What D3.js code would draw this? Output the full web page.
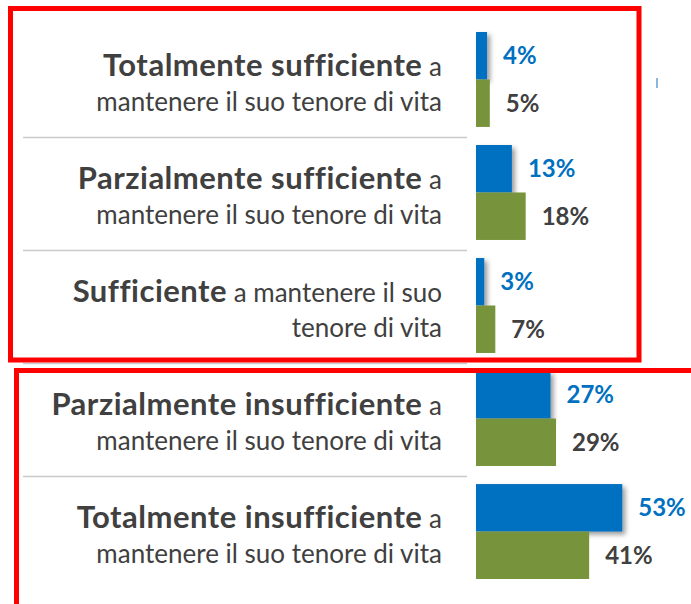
<!DOCTYPE html>
<html lang="it">
<head>
<meta charset="UTF-8">
<title>Reddito e tenore di vita</title>
<style>
  body { margin: 0; background: #fff; }
  svg { display: block; font-family: Lato, "Open Sans", sans-serif; }
  .label { fill: #404040; font-size: 26px; }
  .label .strong { font-weight: bold; font-size: 31px; letter-spacing: 0.5px; }
  .value { font-weight: bold; font-size: 24px; }
</style>
</head>
<body>
<svg width="691" height="604"></svg>
<script src="https://d3js.org/d3.v7.min.js"></script>
<script>
const categories = ["Totalmente sufficiente", "Parzialmente sufficiente", "Sufficiente", "Parzialmente insufficiente", "Totalmente insufficiente"];
const firstLineTail = [" a", " a", " a mantenere il suo", " a", " a"];
const secondLine = ["mantenere il suo tenore di vita", "mantenere il suo tenore di vita", "tenore di vita", "mantenere il suo tenore di vita", "mantenere il suo tenore di vita"];
const blueValues = [4, 13, 3, 27, 53];
const greenValues = [5, 18, 7, 29, 41];
const series = ["blue", "green"];

const colors = { blue: "#0070c0", green: "#77933c" };
const labelColors = { blue: "#0070c0", green: "#404040" };

const svg = d3.select("svg");

// soft shadow behind the blue bars
svg.append("defs").append("filter")
    .attr("id", "shadow")
    .attr("filterUnits", "userSpaceOnUse")
    .attr("x", 0).attr("y", 0).attr("width", 691).attr("height", 604)
    .append("feDropShadow")
    .attr("dx", 3).attr("dy", 3)
    .attr("stdDeviation", 2.5)
    .attr("flood-color", "#000")
    .attr("flood-opacity", 0.4);

const y = d3.scaleBand().domain(categories).range([32, 579]).paddingInner(0.16);
const ySub = d3.scaleBand().domain(series).range([0, y.bandwidth()]);
const x = d3.scaleLinear().domain([0, 100]).range([476, 752]);

const rows = categories.map((c, i) => ({
    cat: c,
    tail: firstLineTail[i],
    line2: secondLine[i],
    blue: blueValues[i],
    green: greenValues[i]
}));

// separators between rows
svg.selectAll(".sep")
    .data(categories.slice(0, -1))
    .enter().append("line")
    .attr("class", "sep")
    .attr("x1", 23).attr("x2", 467)
    .attr("y1", d => y(d) + y.bandwidth() + 10.5)
    .attr("y2", d => y(d) + y.bandwidth() + 10.5)
    .attr("stroke", "#cacaca")
    .attr("stroke-width", 1.5);

// category labels
const label = svg.selectAll(".label")
    .data(rows)
    .enter().append("g")
    .attr("class", "label");

const line1 = label.append("text")
    .attr("x", 442)
    .attr("y", d => y(d.cat) + 44)
    .attr("text-anchor", "end");
line1.append("tspan").attr("class", "strong").text(d => d.cat);
line1.append("tspan").text(d => d.tail);

label.append("text")
    .attr("x", 442)
    .attr("y", d => y(d.cat) + 79)
    .attr("text-anchor", "end")
    .text(d => d.line2);

// bars: blue first (with shadow), green on top
series.forEach(s => {
    svg.selectAll(".bar-" + s)
        .data(rows)
        .enter().append("rect")
        .attr("class", "bar-" + s)
        .attr("x", x(0))
        .attr("y", d => y(d.cat) + ySub(s))
        .attr("width", d => x(d[s]) - x(0))
        .attr("height", ySub.bandwidth())
        .attr("fill", colors[s])
        .attr("filter", s === "blue" ? "url(#shadow)" : null);
});

series.forEach(s => {
    svg.selectAll(".value-" + s)
        .data(rows)
        .enter().append("text")
        .attr("class", "value value-" + s)
        .attr("x", d => x(d[s]) + 16)
        .attr("y", d => y(d.cat) + ySub(s) + ySub.bandwidth() / 2)
        .attr("dy", "0.35em")
        .attr("fill", labelColors[s])
        .text(d => d[s] + "%");
});

// small stray mark at the right
svg.append("line")
    .attr("x1", 657).attr("x2", 657)
    .attr("y1", 78).attr("y2", 88)
    .attr("stroke", "#3a86c8")
    .attr("stroke-width", 1.2);

// red highlight boxes
svg.append("rect")
    .attr("x", 10.5).attr("y", 8.5)
    .attr("width", 628.5).attr("height", 351.5)
    .attr("fill", "none")
    .attr("stroke", "#ff0000")
    .attr("stroke-width", 5);

svg.append("rect")
    .attr("x", 16.5).attr("y", 370.5)
    .attr("width", 720).attr("height", 300)
    .attr("fill", "none")
    .attr("stroke", "#ff0000")
    .attr("stroke-width", 5);
</script>
</body>
</html>
